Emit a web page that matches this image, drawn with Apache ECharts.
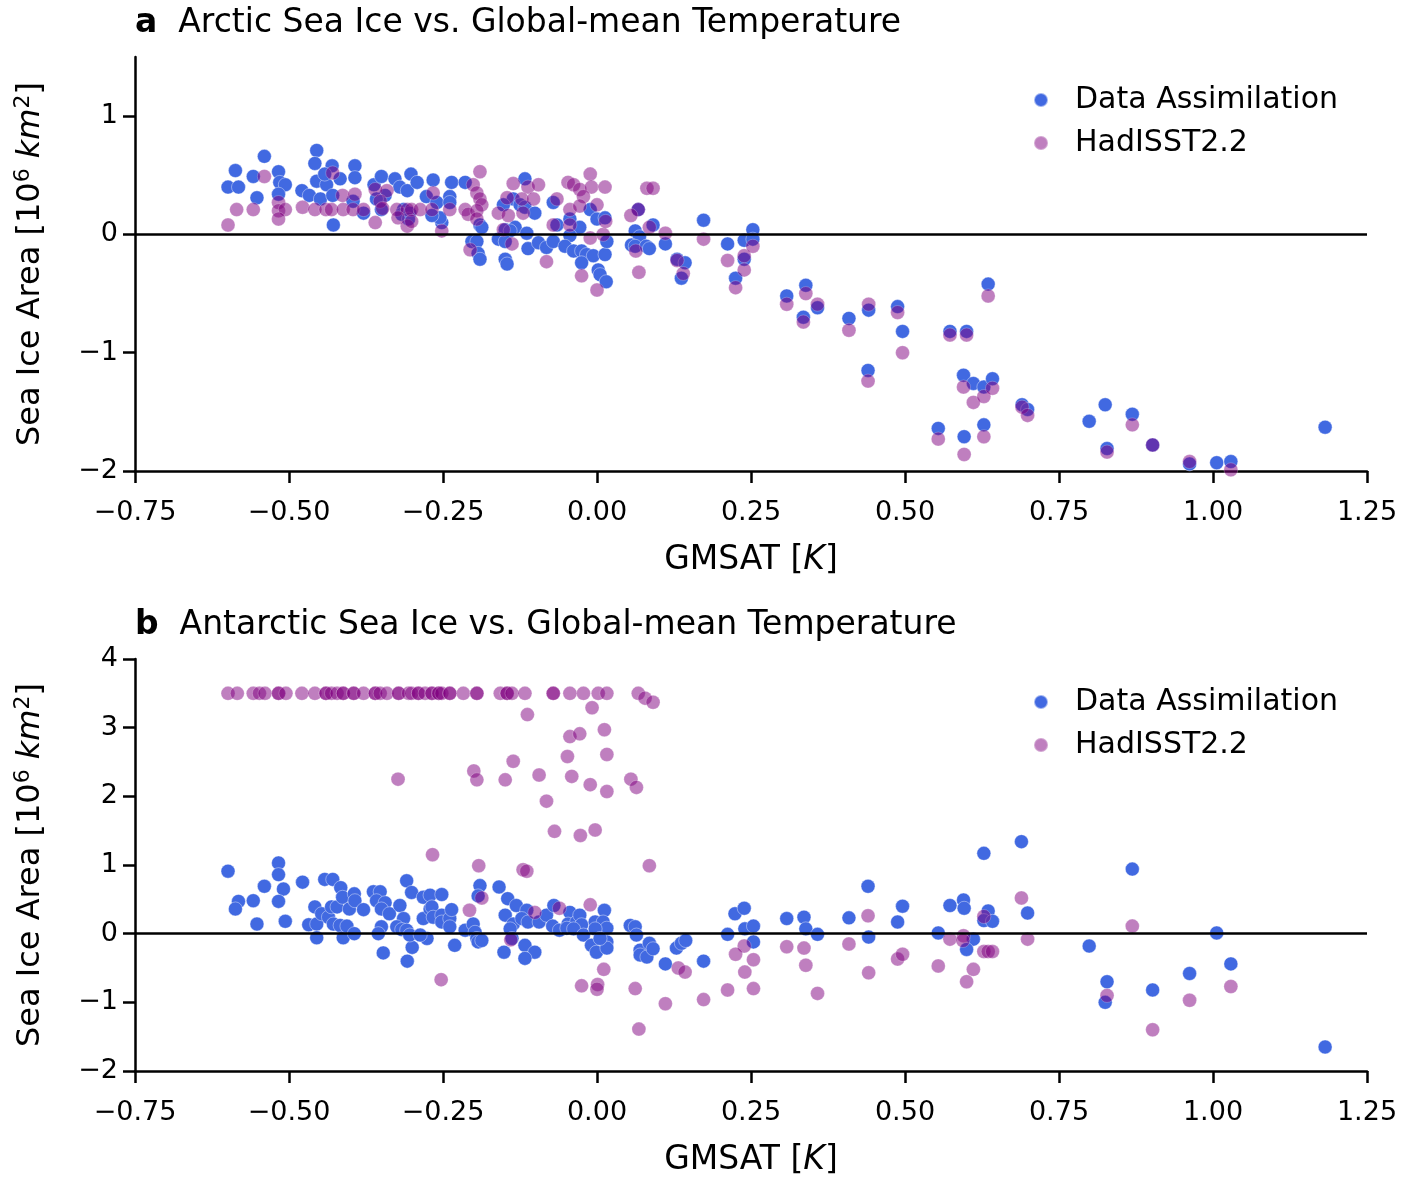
<!DOCTYPE html>
<html>
<head>
<meta charset="utf-8">
<title>Sea Ice vs. Global-mean Temperature</title>
<script src="https://cdn.jsdelivr.net/npm/echarts@6/dist/echarts.min.js"></script>
<style>
  html, body { margin: 0; padding: 0; background: #fff; }
  #chart { width: 1419px; height: 1178px; }
</style>
</head>
<body>
<div id="chart"></div>
<script>
// [GMSAT (K), sea ice area anomaly (10^6 km^2)]
const arcticDA = [
  [-0.599,0.40],[-0.582,0.40],[-0.587,0.54],[-0.558,0.49],[-0.540,0.66],[-0.552,0.31],[-0.517,0.53],[-0.515,0.44],
  [-0.506,0.42],[-0.517,0.34],[-0.479,0.37],[-0.467,0.33],[-0.455,0.71],[-0.458,0.60],[-0.455,0.45],[-0.439,0.42],
  [-0.449,0.30],[-0.430,0.58],[-0.442,0.51],[-0.417,0.47],[-0.429,0.33],[-0.428,0.08],[-0.393,0.58],[-0.393,0.48],
  [-0.396,0.28],[-0.379,0.18],[-0.362,0.42],[-0.350,0.49],[-0.344,0.33],[-0.358,0.30],[-0.350,0.21],[-0.328,0.47],
  [-0.320,0.40],[-0.314,0.21],[-0.308,0.37],[-0.302,0.51],[-0.292,0.44],[-0.317,0.17],[-0.304,0.18],[-0.306,0.13],
  [-0.266,0.46],[-0.236,0.44],[-0.214,0.44],[-0.277,0.32],[-0.260,0.27],[-0.239,0.32],[-0.239,0.27],[-0.252,0.10],
  [-0.255,0.14],[-0.268,0.16],[-0.190,0.08],[-0.187,0.06],[-0.203,-0.06],[-0.195,-0.06],[-0.193,-0.16],[-0.190,-0.21],
  [-0.117,0.47],[-0.136,0.30],[-0.152,0.25],[-0.125,0.25],[-0.117,0.23],[-0.101,0.18],[-0.149,0.04],[-0.133,0.06],
  [-0.141,0.03],[-0.114,0.01],[-0.160,-0.04],[-0.149,-0.06],[-0.112,-0.12],[-0.149,-0.21],[-0.146,-0.25],[-0.095,-0.07],
  [-0.082,-0.11],[-0.071,-0.06],[-0.071,0.27],[-0.044,0.13],[-0.028,0.06],[-0.011,0.21],[0.000,0.13],[0.013,0.14],
  [-0.065,0.08],[-0.044,-0.01],[-0.052,-0.10],[-0.038,-0.14],[-0.025,-0.14],[-0.017,-0.17],[-0.006,-0.18],[0.013,-0.17],
  [-0.025,-0.24],[0.002,-0.30],[0.005,-0.34],[0.015,-0.40],[0.016,-0.06],
  [0.173,0.12],[0.212,-0.08],[0.225,-0.37],[0.239,-0.05],[0.239,-0.21],[0.253,0.04],[0.253,-0.04],[0.130,-0.21],
  [0.143,-0.24],[0.137,-0.37],[0.111,-0.08],[0.091,0.08],[0.067,0.21],[0.062,0.03],[0.069,-0.02],[0.056,-0.09],
  [0.062,-0.10],[0.080,-0.10],[0.085,-0.12],
  [0.308,-0.52],[0.339,-0.43],[0.358,-0.62],[0.335,-0.70],[0.409,-0.71],[0.441,-0.64],[0.488,-0.61],[0.496,-0.82],
  [0.440,-1.15],[0.573,-0.82],[0.600,-0.82],[0.635,-0.42],[0.595,-1.19],[0.611,-1.26],[0.628,-1.29],[0.642,-1.22],
  [0.690,-1.44],[0.699,-1.48],[0.554,-1.64],[0.596,-1.71],[0.628,-1.61],[0.799,-1.58],[0.825,-1.44],[0.828,-1.81],
  [0.869,-1.52],[0.902,-1.78],[0.962,-1.94],[1.006,-1.93],[1.029,-1.92],[1.182,-1.63]
];
const arcticHad = [
  [-0.599,0.08],[-0.585,0.21],[-0.558,0.21],[-0.540,0.49],[-0.517,0.27],[-0.517,0.20],[-0.506,0.21],[-0.517,0.13],
  [-0.478,0.23],[-0.458,0.21],[-0.440,0.21],[-0.431,0.21],[-0.429,0.52],[-0.413,0.33],[-0.393,0.34],[-0.412,0.21],
  [-0.396,0.21],[-0.379,0.21],[-0.360,0.10],[-0.360,0.38],[-0.341,0.37],[-0.352,0.28],[-0.348,0.22],[-0.325,0.21],
  [-0.308,0.21],[-0.323,0.14],[-0.308,0.07],
  [-0.190,0.53],[-0.201,0.42],[-0.195,0.35],[-0.266,0.35],[-0.190,0.30],[-0.187,0.25],[-0.301,0.21],[-0.287,0.21],
  [-0.268,0.21],[-0.239,0.21],[-0.214,0.21],[-0.209,0.17],[-0.195,0.20],[-0.301,0.11],[-0.252,0.03],[-0.195,0.13],
  [-0.206,-0.13],[-0.136,0.43],[-0.112,0.40],[-0.095,0.42],[-0.146,0.31],[-0.122,0.30],[-0.103,0.30],[-0.160,0.18],
  [-0.144,0.16],[-0.120,0.18],[-0.152,0.04],[-0.138,-0.08],[-0.082,-0.23],[-0.065,0.30],[-0.047,0.44],[-0.038,0.42],
  [-0.028,0.38],[-0.011,0.51],[-0.009,0.40],[0.013,0.40],[-0.022,0.32],[-0.044,0.21],[-0.028,0.24],[0.000,0.25],
  [-0.071,0.08],[-0.044,0.08],[-0.011,-0.03],[0.010,0.00],[0.014,0.11],[-0.025,-0.35],[0.000,-0.47],
  [0.173,-0.04],[0.212,-0.22],[0.225,-0.45],[0.239,-0.30],[0.239,-0.18],[0.253,-0.10],[0.130,-0.22],[0.140,-0.33],
  [0.111,0.01],[0.085,0.06],[0.081,0.39],[0.091,0.39],[0.067,0.21],[0.055,0.16],[0.063,-0.14],[0.068,-0.32],
  [0.308,-0.59],[0.339,-0.50],[0.358,-0.59],[0.335,-0.74],[0.409,-0.81],[0.441,-0.59],[0.488,-0.66],[0.496,-1.00],
  [0.440,-1.24],[0.573,-0.85],[0.600,-0.85],[0.635,-0.52],[0.595,-1.29],[0.611,-1.42],[0.628,-1.37],[0.642,-1.30],
  [0.690,-1.46],[0.699,-1.53],[0.554,-1.73],[0.596,-1.86],[0.628,-1.71],[0.828,-1.84],[0.869,-1.61],[0.902,-1.78],
  [0.962,-1.92],[1.029,-1.99]
];
const antarcticDA = [
  [-0.599,0.91],[-0.582,0.47],[-0.587,0.36],[-0.552,0.14],[-0.558,0.48],[-0.540,0.69],[-0.517,1.03],[-0.517,0.86],
  [-0.509,0.65],[-0.517,0.47],[-0.506,0.18],[-0.478,0.75],[-0.468,0.13],[-0.458,0.39],[-0.455,0.14],[-0.455,-0.06],
  [-0.442,0.79],[-0.429,0.79],[-0.447,0.29],[-0.436,0.24],[-0.431,0.39],[-0.422,0.39],[-0.428,0.14],[-0.417,0.12],
  [-0.412,-0.06],[-0.416,0.67],[-0.413,0.53],[-0.406,0.11],[-0.402,0.36],[-0.394,0.58],[-0.393,0.48],[-0.394,0.00],
  [-0.379,0.35],[-0.363,0.61],[-0.352,0.61],[-0.358,0.48],[-0.344,0.45],[-0.350,0.36],[-0.350,0.10],[-0.355,0.00],
  [-0.347,-0.28],[-0.337,0.29],[-0.320,0.41],[-0.314,0.22],[-0.325,0.10],[-0.309,0.77],[-0.301,0.60],[-0.317,0.06],
  [-0.309,0.05],[-0.300,-0.20],[-0.308,-0.40],[-0.304,-0.02],[-0.282,0.53],[-0.282,0.22],[-0.271,0.36],[-0.276,-0.07],
  [-0.287,-0.02],[-0.271,0.56],[-0.252,0.57],[-0.268,0.39],[-0.266,0.24],[-0.252,0.27],[-0.252,0.17],[-0.239,0.22],
  [-0.236,0.35],[-0.239,0.10],[-0.231,-0.17],[-0.214,0.05],[-0.201,0.14],[-0.198,0.02],[-0.195,-0.07],[-0.193,-0.12],
  [-0.187,-0.10],[-0.190,0.70],[-0.193,0.55],[-0.159,0.68],[-0.145,0.51],[-0.131,0.41],[-0.149,0.27],[-0.136,0.14],
  [-0.141,0.07],[-0.138,-0.07],[-0.151,-0.27],[-0.117,-0.17],[-0.101,-0.27],[-0.117,-0.36],[-0.114,0.34],[-0.122,0.22],
  [-0.112,0.17],[-0.094,0.17],[-0.082,0.27],[-0.070,0.41],[-0.072,0.11],[-0.061,0.05],[-0.044,0.31],[-0.047,0.14],
  [-0.033,0.17],[-0.028,0.27],[-0.025,0.13],[-0.049,0.08],[-0.038,0.07],[-0.022,-0.02],[-0.003,0.17],[0.012,0.34],
  [0.010,0.17],[0.016,0.08],[-0.003,0.07],[-0.009,-0.17],[-0.001,-0.27],[0.016,-0.12],[0.016,-0.21],[0.005,-0.07],
  [0.054,0.12],[0.062,0.10],[0.064,-0.02],[0.070,-0.24],[0.085,-0.14],[0.070,-0.31],[0.081,-0.34],[0.091,-0.22],
  [0.111,-0.44],[0.129,-0.21],[0.137,-0.14],[0.144,-0.10],[0.173,-0.40],[0.212,-0.01],[0.224,0.29],[0.239,0.37],
  [0.240,0.07],[0.254,0.11],[0.254,-0.12],[0.308,0.22],[0.336,0.24],[0.339,0.07],[0.358,-0.01],[0.409,0.23],
  [0.440,0.69],[0.441,-0.05],[0.488,0.17],[0.496,0.40],[0.554,0.01],[0.573,0.41],[0.595,0.49],[0.596,0.37],
  [0.611,-0.08],[0.600,-0.23],[0.628,1.17],[0.635,0.33],[0.628,0.19],[0.642,0.18],[0.689,1.34],[0.699,0.30],
  [0.799,-0.18],[0.869,0.94],[0.828,-0.70],[0.825,-1.00],[0.902,-0.82],[0.962,-0.58],[1.006,0.01],[1.029,-0.44],
  [1.182,-1.65]
];
const antarcticHad = [
  [-0.599,3.5],[-0.584,3.5],[-0.558,3.5],[-0.548,3.5],[-0.539,3.5],[-0.517,3.5],[-0.517,3.5],[-0.505,3.5],
  [-0.479,3.5],[-0.458,3.5],[-0.440,3.5],[-0.440,3.5],[-0.431,3.5],[-0.422,3.5],[-0.412,3.5],[-0.412,3.5],
  [-0.395,3.5],[-0.395,3.5],[-0.379,3.5],[-0.360,3.5],[-0.360,3.5],[-0.352,3.5],[-0.341,3.5],[-0.322,3.5],
  [-0.322,3.5],[-0.306,3.5],[-0.301,3.5],[-0.290,3.5],[-0.290,3.5],[-0.279,3.5],[-0.268,3.5],[-0.268,3.5],
  [-0.257,3.5],[-0.257,3.5],[-0.252,3.5],[-0.239,3.5],[-0.239,3.5],[-0.217,3.5],[-0.195,3.5],[-0.195,3.5],
  [-0.157,3.5],[-0.146,3.5],[-0.146,3.5],[-0.138,3.5],[-0.117,3.5],[-0.071,3.5],[-0.071,3.5],[-0.044,3.5],
  [-0.022,3.5],[0.002,3.5],[0.016,3.5],[0.067,3.5],[0.078,3.43],[0.091,3.37],
  [-0.113,3.19],[-0.008,3.29],[-0.044,2.87],[-0.028,2.91],[0.012,2.97],[-0.048,2.58],[0.016,2.61],[-0.136,2.51],
  [-0.200,2.37],[-0.195,2.24],[-0.149,2.24],[-0.094,2.31],[-0.041,2.29],[-0.011,2.17],[0.016,2.07],[0.055,2.25],
  [0.064,2.13],[-0.082,1.93],[-0.069,1.49],[-0.027,1.43],[-0.003,1.51],[-0.323,2.25],[-0.267,1.15],[-0.192,0.99],
  [-0.120,0.93],[-0.114,0.91],[0.085,0.99],[-0.253,-0.67],[-0.207,0.34],[-0.187,0.52],[-0.140,-0.09],[-0.101,0.31],
  [-0.061,0.37],[-0.011,0.42],[0.011,-0.52],[-0.025,-0.76],[0.001,-0.74],[0.000,-0.81],[0.062,-0.80],[0.068,-1.39],
  [0.111,-1.02],[0.132,-0.50],[0.143,-0.56],[0.173,-0.96],[0.212,-0.82],[0.239,-0.18],[0.225,-0.30],[0.254,-0.38],
  [0.240,-0.56],[0.254,-0.80],[0.308,-0.19],[0.336,-0.21],[0.339,-0.46],[0.358,-0.87],[0.409,-0.15],[0.440,0.26],
  [0.441,-0.57],[0.488,-0.37],[0.496,-0.30],[0.554,-0.47],[0.573,-0.08],[0.595,-0.03],[0.594,-0.10],[0.611,-0.52],
  [0.600,-0.70],[0.628,0.25],[0.628,-0.26],[0.635,-0.26],[0.642,-0.26],[0.689,0.52],[0.699,-0.08],[0.869,0.11],
  [0.828,-0.90],[0.902,-1.40],[0.962,-0.97],[1.029,-0.77]
];
const seriesNames = ['Data Assimilation', 'HadISST2.2'];
const panelTitles = ['Arctic Sea Ice vs. Global-mean Temperature', 'Antarctic Sea Ice vs. Global-mean Temperature'];
const xTicks = [-0.75, 1.25, 0.25];
const arcticYTicks = [-2, -1, 0, 1];
const antarcticYTicks = [-2, -1, 0, 1, 2, 3, 4];

const FONT = 'DejaVu Sans';
const BLUE = '#4169e1';
const PURPLE = '#800080';
const minus = s => String(s).replace('-', '\u2212');

const panelTop = [57, 659];
const panelH = 414;

const makeX = (i) => ({
  type: 'value', gridIndex: i,
  min: xTicks[0], max: xTicks[1], interval: xTicks[2],
  name: '{n|GMSAT [}{it|K}{n|]}',
  nameLocation: 'middle', nameGap: 73,
  nameTextStyle: { rich: {
    n: { fontFamily: FONT, fontSize: 33, color: '#000' },
    it: { fontFamily: FONT, fontSize: 33, color: '#000', fontStyle: 'italic' }
  } },
  axisLine: { show: true, onZero: false, lineStyle: { color: '#000', width: 2.5 } },
  axisTick: { show: true, inside: false, length: 12, lineStyle: { color: '#000', width: 2.5 } },
  axisLabel: { fontFamily: FONT, fontSize: 27, color: '#000', margin: 28,
    formatter: v => minus(v.toFixed(2)) },
  splitLine: { show: false }
});

const makeY = (i, ticks, max) => ({
  type: 'value', gridIndex: i,
  min: -2, max: max, interval: 1,
  name: '{n|Sea Ice Area [10}{s|6}{n| }{it|km}{s|2}{n|]}',
  nameLocation: 'middle', nameGap: 86, nameRotate: 90,
  nameTextStyle: { rich: {
    n: { fontFamily: FONT, fontSize: 32, color: '#000' },
    it: { fontFamily: FONT, fontSize: 32, color: '#000', fontStyle: 'italic' },
    s: { fontFamily: FONT, fontSize: 22, color: '#000', padding: [0, 0, 15, 0] }
  } },
  axisLine: { show: true, onZero: false, lineStyle: { color: '#000', width: 2.5 } },
  axisTick: { show: true, length: 12, customValues: ticks, lineStyle: { color: '#000', width: 2.5 } },
  axisLabel: { fontFamily: FONT, fontSize: 27, color: '#000', margin: 17, customValues: ticks,
    formatter: v => minus(v) },
  splitLine: { show: false }
});

const makeSeries = (i, da, had) => [
  { name: seriesNames[0], type: 'scatter', xAxisIndex: i, yAxisIndex: i, data: da,
    symbolSize: 14, itemStyle: { color: BLUE, opacity: 1, borderColor: 'rgba(255,255,255,0.5)', borderWidth: 0.8 }, z: 2 },
  { name: seriesNames[1], type: 'scatter', xAxisIndex: i, yAxisIndex: i, data: had,
    symbolSize: 14, itemStyle: { color: PURPLE, opacity: 0.5, borderColor: 'rgba(255,255,255,0.6)', borderWidth: 0.8 }, z: 3 },
  { type: 'scatter', xAxisIndex: i, yAxisIndex: i, data: [], z: 4, silent: true,
    markLine: { silent: true, symbol: 'none', label: { show: false },
      lineStyle: { color: '#000', width: 2.5, type: 'solid' },
      data: [{ yAxis: 0 }] } }
];

const legendFor = (top) => ({
  data: seriesNames, orient: 'vertical', left: 1028, top: top,
  icon: 'circle', itemWidth: 14, itemHeight: 14, itemGap: 13,
  textStyle: { fontFamily: FONT, fontSize: 30, color: '#000', padding: [0, 0, 0, 22] }
});

const titleFor = (letter, text, top) => ({
  text: '{b|' + letter + '}{t|  ' + text + '}',
  left: 130, top: top,
  textStyle: { fontWeight: 'normal', rich: {
    b: { fontFamily: FONT, fontSize: 33, fontWeight: 'bold', color: '#000' },
    t: { fontFamily: FONT, fontSize: 33, fontWeight: 'normal', color: '#000' }
  } }
});

const chart = echarts.init(document.getElementById('chart'), null, { renderer: 'canvas' });
chart.setOption({
  backgroundColor: '#fff',
  animation: false,
  title: [titleFor('a', panelTitles[0], 2), titleFor('b', panelTitles[1], 604)],
  legend: [legendFor(80), legendFor(682)],
  grid: [
    { left: 135, right: 52, top: panelTop[0], height: panelH },
    { left: 135, right: 52, top: panelTop[1], height: panelH }
  ],
  xAxis: [makeX(0), makeX(1)],
  yAxis: [makeY(0, arcticYTicks, 1.5), makeY(1, antarcticYTicks, 4)],
  series: [...makeSeries(0, arcticDA, arcticHad), ...makeSeries(1, antarcticDA, antarcticHad)]
});
</script>
</body>
</html>
